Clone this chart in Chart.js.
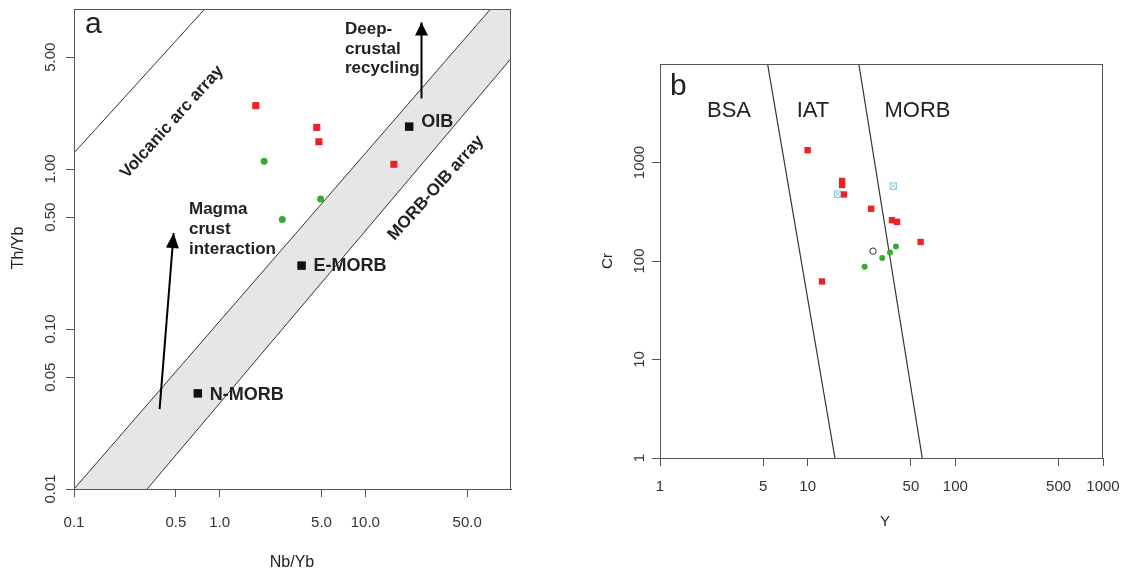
<!DOCTYPE html>
<html><head><meta charset="utf-8">
<script src="https://cdn.jsdelivr.net/npm/chart.js@4.4.1/dist/chart.umd.min.js"></script>
<style>
html,body{margin:0;padding:0;background:#fff;width:1126px;height:574px;overflow:hidden}
#wa{position:absolute;left:0;top:0;width:560px;height:574px}
#wb{position:absolute;left:560px;top:0;width:566px;height:574px}
</style></head><body>
<div id="wa"><canvas id="ca"></canvas></div>
<div id="wb"><canvas id="cb"></canvas></div>
<script>
// ---------- Panel a : Th/Yb vs Nb/Yb ----------
const aXTicks = [0.1, 0.5, 1, 5, 10, 50];
const aXTickLabels = ['0.1', '0.5', '1.0', '5.0', '10.0', '50.0'];
const aYTicks = [0.01, 0.05, 0.1, 0.5, 1, 5];
const aYTickLabels = ['0.01', '0.05', '0.10', '0.50', '1.00', '5.00'];
const aRedX = [1.77, 4.64, 4.80, 15.7];
const aRedY = [2.49, 1.82, 1.48, 1.07];
const aGreenX = [2.02, 4.93, 2.69];
const aGreenY = [1.12, 0.65, 0.484];
const aRefNames = ['OIB', 'E-MORB', 'N-MORB'];
const aRefX = [20.0, 3.65, 0.708];
const aRefY = [1.84, 0.249, 0.0396];
const arcLineX = [0.1, 0.79];
const arcLineY = [1.26, 10];
const morbUpperX = [0.1, 72.4];
const morbUpperY = [0.01, 10];
const morbLowerX = [0.318, 100];
const morbLowerY = [0.01, 4.9];
const magmaArrowX = [0.387, 0.483];
const magmaArrowY = [0.0316, 0.398];
const deepArrowX = [24.3, 24.3];
const deepArrowY = [2.76, 8.24];

// ---------- Panel b : Cr vs Y ----------
const bXTicks = [1, 5, 10, 50, 100, 500, 1000];
const bXTickLabels = ['1', '5', '10', '50', '100', '500', '1000'];
const bYTicks = [1, 10, 100, 1000];
const bYTickLabels = ['1', '10', '100', '1000'];
const bRedX = [10.0, 17.1, 17.1, 17.6, 26.9, 37.2, 40.3, 58.2, 12.5];
const bRedY = [1333, 650, 590, 474, 339, 260, 250, 156, 62];
const bCyanX = [16.0, 38.0];
const bCyanY = [477, 576];
const bGreenX = [24.3, 32.0, 36.1, 39.6];
const bGreenY = [87.5, 107, 122, 140];
const bOpenX = [27.7];
const bOpenY = [126];
const bLine1X = [5.35, 15.3];
const bLine1Y = [10000, 1];
const bLine2X = [22.2, 59.7];
const bLine2Y = [10000, 1];
const bFieldNames = ['BSA', 'IAT', 'MORB'];

const pts = (xs, ys) => xs.map((v, i) => ({x: v, y: ys[i]}));
const FONT = '"Liberation Sans", Arial, Helvetica, sans-serif';
const AXC = '#555';

function logAxis(min, max, ticks, size, isX) {
  return {
    type: 'logarithmic', min: min, max: max,
    afterBuildTicks: s => { s.ticks = ticks.map(v => ({value: v})); },
    afterFit: s => { if (isX) s.height = size; else s.width = size; },
    ticks: {display: false},
    grid: {drawOnChartArea: false, drawTicks: true, tickLength: 8, color: AXC, lineWidth: 1},
    border: {display: true, color: AXC, width: 1}
  };
}

function lineDs(xs, ys, color, width, order) {
  return {type: 'line', data: pts(xs, ys), borderColor: color, borderWidth: width,
    pointRadius: 0, fill: false, tension: 0, order: order, clip: 0};
}

function drawTickLabels(chart, xt, xl, xOff, yt, yl, yOff) {
  const {ctx, chartArea: ca, scales: {x, y}} = chart;
  ctx.save();
  ctx.font = '15px ' + FONT;
  ctx.fillStyle = '#333';
  ctx.textAlign = 'center';
  ctx.textBaseline = 'middle';
  xt.forEach((v, i) => ctx.fillText(xl[i], x.getPixelForValue(v), ca.bottom + xOff));
  yt.forEach((v, i) => {
    ctx.save();
    ctx.translate(ca.left - yOff, y.getPixelForValue(v));
    ctx.rotate(-Math.PI / 2);
    ctx.fillText(yl[i], 0, 0);
    ctx.restore();
  });
  ctx.strokeStyle = AXC; ctx.lineWidth = 1;
  ctx.strokeRect(ca.left + 0.5, ca.top + 0.5, ca.right - ca.left - 1, ca.bottom - ca.top);
  ctx.restore();
}

function text(ctx, s, x, y, font, align, base, rot) {
  ctx.save();
  ctx.font = font; ctx.fillStyle = '#222';
  ctx.textAlign = align || 'left'; ctx.textBaseline = base || 'alphabetic';
  ctx.translate(x, y);
  if (rot) ctx.rotate(rot);
  ctx.fillText(s, 0, 0);
  ctx.restore();
}

function arrowHead(chart, xs, ys, len, halfW) {
  const {ctx, scales: {x, y}} = chart;
  const x0 = x.getPixelForValue(xs[0]), y0 = y.getPixelForValue(ys[0]);
  const x1 = x.getPixelForValue(xs[1]), y1 = y.getPixelForValue(ys[1]);
  const ang = Math.atan2(y1 - y0, x1 - x0);
  ctx.save();
  ctx.translate(x1, y1); ctx.rotate(ang);
  ctx.beginPath(); ctx.moveTo(0, 0); ctx.lineTo(-len, -halfW); ctx.lineTo(-len, halfW); ctx.closePath();
  ctx.fillStyle = '#000'; ctx.fill();
  ctx.restore();
}

const pluginA = {
  id: 'decorA',
  afterDraw(chart) {
    const {ctx, scales: {x, y}} = chart;
    drawTickLabels(chart, aXTicks, aXTickLabels, 34, aYTicks, aYTickLabels, 23);
    arrowHead(chart, magmaArrowX, magmaArrowY, 15, 6.5);
    arrowHead(chart, deepArrowX, deepArrowY, 13, 6.5);
    const B = 'bold 17px ' + FONT;
    text(ctx, 'a', 85, 33, '30px ' + FONT);
    text(ctx, 'Deep-', 345, 33.5, B);
    text(ctx, 'crustal', 345, 53.5, B);
    text(ctx, 'recycling', 345, 73, B);
    text(ctx, 'Magma', 189, 213.5, B);
    text(ctx, 'crust', 189, 233.5, B);
    text(ctx, 'interaction', 189, 254, B);
    text(ctx, 'Volcanic arc array', 172, 122, B, 'center', 'middle', -48 * Math.PI / 180);
    text(ctx, 'MORB-OIB array', 436, 188, B, 'center', 'middle', -48 * Math.PI / 180);
    const dy = [-5, 0, 2];
    aRefNames.forEach((n, i) => {
      text(ctx, n, x.getPixelForValue(aRefX[i]) + 12, y.getPixelForValue(aRefY[i]) + dy[i],
        'bold 18px ' + FONT, 'left', 'middle');
    });
    text(ctx, 'Th/Yb', 19, 248, '16px ' + FONT, 'center', 'middle', -Math.PI / 2);
    text(ctx, 'Nb/Yb', 292, 563, '16px ' + FONT, 'center', 'middle');
  }
};

const pluginB = {
  id: 'decorB',
  afterDraw(chart) {
    const {ctx} = chart;
    drawTickLabels(chart, bXTicks, bXTickLabels, 29, bYTicks, bYTickLabels, 20);
    text(ctx, 'b', 110, 95, '30px ' + FONT);
    const cx = [169, 253, 357.5];
    bFieldNames.forEach((n, i) => text(ctx, n, cx[i], 116.5, '22px ' + FONT, 'center'));
    text(ctx, 'Cr', 48, 261, '15px ' + FONT, 'center', 'middle', -Math.PI / 2);
    text(ctx, 'Y', 325, 522, '15px ' + FONT, 'center', 'middle');
  }
};

const bandPoly = pts(
  [morbUpperX[0], morbUpperX[1], 100, morbLowerX[1], morbLowerX[0]],
  [morbUpperY[0], morbUpperY[1], 10, morbLowerY[1], morbLowerY[0]]
);

new Chart(document.getElementById('ca'), {
  type: 'scatter',
  data: {
    datasets: [
      {type: 'line', data: bandPoly, fill: 'shape', backgroundColor: '#e6e6e6', borderWidth: 0,
        borderColor: 'rgba(0,0,0,0)', pointRadius: 0, tension: 0, order: 10, clip: 0},
      lineDs(morbUpperX, morbUpperY, '#333', 1, 5),
      lineDs(morbLowerX, morbLowerY, '#333', 1, 5),
      lineDs(arcLineX, arcLineY, '#333', 1, 5),
      lineDs(magmaArrowX, magmaArrowY, '#000', 2, 4),
      lineDs(deepArrowX, deepArrowY, '#000', 2, 4),
      {data: pts(aRedX, aRedY), pointStyle: 'rect', pointRadius: 5, backgroundColor: '#ec2227', borderWidth: 0, order: 1},
      {data: pts(aGreenX, aGreenY), pointStyle: 'circle', pointRadius: 3.5, backgroundColor: '#39a935', borderWidth: 0, order: 1},
      {data: pts(aRefX, aRefY), pointStyle: 'rect', pointRadius: 6, backgroundColor: '#111', borderWidth: 0, order: 1}
    ]
  },
  options: {
    responsive: true, maintainAspectRatio: false, animation: false, events: [],
    layout: {padding: {left: 0, top: 9, right: 49, bottom: 0}},
    plugins: {legend: {display: false}, tooltip: {enabled: false}},
    scales: {
      x: logAxis(0.1, 100, aXTicks, 85, true),
      y: logAxis(0.01, 10, aYTicks, 74, false)
    }
  },
  plugins: [pluginA]
});

new Chart(document.getElementById('cb'), {
  type: 'scatter',
  data: {
    datasets: [
      lineDs(bLine1X, bLine1Y, '#333', 1.2, 5),
      lineDs(bLine2X, bLine2Y, '#333', 1.2, 5),
      {data: pts(bRedX, bRedY), pointStyle: 'rect', pointRadius: 4.5, backgroundColor: '#ec2227', borderWidth: 0, order: 1},
      {data: pts(bCyanX, bCyanY), pointStyle: 'rect', pointRadius: 4.6, backgroundColor: '#fff', borderColor: '#7fcfe3', borderWidth: 1, order: 1},
      {data: pts(bCyanX, bCyanY), pointStyle: 'crossRot', pointRadius: 4.6, borderColor: '#7fcfe3', borderWidth: 1, order: 0},
      {data: pts(bGreenX, bGreenY), pointStyle: 'circle', pointRadius: 3, backgroundColor: '#39a935', borderWidth: 0, order: 1},
      {data: pts(bOpenX, bOpenY), pointStyle: 'circle', pointRadius: 3.2, backgroundColor: '#fff', borderColor: '#333', borderWidth: 1, order: 1}
    ]
  },
  options: {
    responsive: true, maintainAspectRatio: false, animation: false, events: [],
    layout: {padding: {left: 0, top: 64, right: 23, bottom: 0}},
    plugins: {legend: {display: false}, tooltip: {enabled: false}},
    scales: {
      x: logAxis(1, 1000, bXTicks, 116, true),
      y: logAxis(1, 10000, bYTicks, 100, false)
    }
  },
  plugins: [pluginB]
});
</script>
</body></html>
